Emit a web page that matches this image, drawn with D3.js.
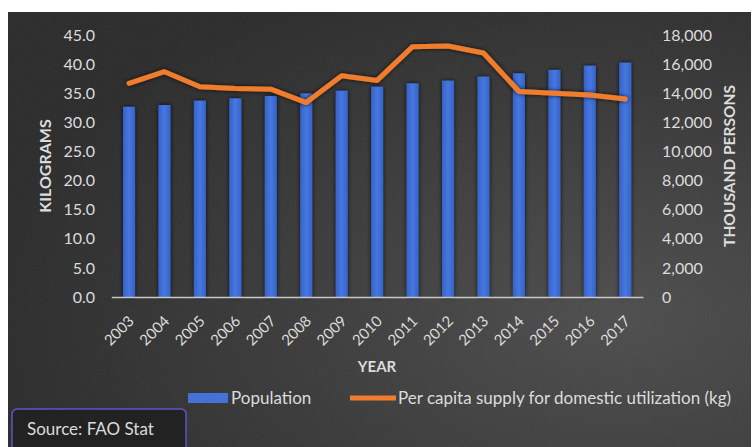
<!DOCTYPE html>
<html>
<head>
<meta charset="utf-8">
<script src="https://cdn.jsdelivr.net/npm/d3@7/dist/d3.min.js"></script>
<style>
  html, body { margin: 0; padding: 0; background: #ffffff; }
  svg { display: block; }
  text { font-family: Lato, "Open Sans", sans-serif; fill: #dcdcdc; }
</style>
</head>
<body>
<svg id="chart" width="753" height="447"></svg>
<script>
// Years on the category axis
const years = ["2003","2004","2005","2006","2007","2008","2009","2010",
               "2011","2012","2013","2014","2015","2016","2017"];
// Population, thousand persons (right axis)
const population = [13070, 13190, 13490, 13650, 13810, 13990, 14170, 14450,
                    14680, 14860, 15140, 15370, 15600, 15890, 16100];
// Per capita supply for domestic utilization, kg (left axis)
const perCapitaKg = [36.7, 38.7, 36.1, 35.8, 35.7, 33.4, 38.0, 37.2,
                     43.0, 43.1, 41.9, 35.3, 35.0, 34.7, 34.0];
const kgTicks = [0, 5, 10, 15, 20, 25, 30, 35, 40, 45];
const popTicks = [0, 2000, 4000, 6000, 8000, 10000, 12000, 14000, 16000, 18000];

const svg = d3.select("#chart");
const defs = svg.append("defs");

// Dark textured panel
const grad = defs.append("radialGradient").attr("id", "bg")
  .attr("cx", "82%").attr("cy", "70%").attr("r", "85%");
grad.append("stop").attr("offset", "0%").attr("stop-color", "#4b4b4b");
grad.append("stop").attr("offset", "55%").attr("stop-color", "#373737");
grad.append("stop").attr("offset", "100%").attr("stop-color", "#282828");

const noise = defs.append("filter").attr("id", "grain")
  .attr("x", 0).attr("y", 0).attr("width", "100%").attr("height", "100%");
noise.append("feTurbulence").attr("type", "fractalNoise")
  .attr("baseFrequency", 0.9).attr("numOctaves", 2).attr("seed", 3).attr("result", "n");
noise.append("feColorMatrix").attr("in", "n").attr("type", "matrix")
  .attr("values", "0 0 0 0 0.5  0 0 0 0 0.5  0 0 0 0 0.5  0 0 0 0.1 0");

const shadow = defs.append("filter").attr("id", "shadow")
  .attr("x", "-50%").attr("y", "-20%").attr("width", "200%").attr("height", "140%");
shadow.append("feDropShadow").attr("dx", 0).attr("dy", 0).attr("stdDeviation", 2)
  .attr("flood-color", "#111").attr("flood-opacity", 0.8);

const barGrad = defs.append("linearGradient").attr("id", "barFill")
  .attr("x1", "0%").attr("x2", "100%").attr("y1", "0%").attr("y2", "0%");
barGrad.append("stop").attr("offset", "0%").attr("stop-color", "#3563c8");
barGrad.append("stop").attr("offset", "50%").attr("stop-color", "#4677e0");
barGrad.append("stop").attr("offset", "100%").attr("stop-color", "#3563c8");

svg.append("rect").attr("x", 8).attr("y", 12).attr("width", 743).attr("height", 435)
  .attr("fill", "url(#bg)");
svg.append("rect").attr("x", 8).attr("y", 12).attr("width", 743).attr("height", 435)
  .attr("filter", "url(#grain)").attr("fill", "#000");

// Scales
const x = d3.scaleBand().domain(years).range([111.3, 643])
  .paddingInner(0.66).paddingOuter(0.33);
const yKg = d3.scaleLinear().domain([0, 45]).range([297, 35]);
const yPop = d3.scaleLinear().domain([0, 18000]).range([297, 35]);

// Population bars
svg.append("g").selectAll("rect").data(years).join("rect")
  .attr("x", d => x(d))
  .attr("width", x.bandwidth())
  .attr("y", (d, i) => yPop(population[i]))
  .attr("height", (d, i) => yPop(0) - yPop(population[i]))
  .attr("fill", "url(#barFill)")
  .attr("filter", "url(#shadow)");

// Category axis
const xAxis = svg.append("g").attr("transform", "translate(0,297)")
  .call(d3.axisBottom(x).tickSize(0).tickPadding(0));
xAxis.select(".domain").attr("stroke", "#c8c8c8").attr("stroke-width", 1.5);
xAxis.selectAll("text")
  .attr("font-size", 15)
  .attr("fill", "#dcdcdc")
  .attr("text-anchor", "end")
  .attr("dy", 0)
  .attr("transform", "translate(6,25) rotate(-45)");

// Left axis (kg)
const yL = svg.append("g").attr("transform", "translate(97,0)")
  .call(d3.axisLeft(yKg).tickValues(kgTicks).tickFormat(d3.format(".1f")).tickSize(0).tickPadding(2));
yL.select(".domain").remove();
yL.selectAll("text").attr("font-size", 16).attr("fill", "#dcdcdc");

// Right axis (thousand persons)
const yR = svg.append("g").attr("transform", "translate(660,0)")
  .call(d3.axisRight(yPop).tickValues(popTicks).tickFormat(d3.format(",")).tickSize(0).tickPadding(2));
yR.select(".domain").remove();
yR.selectAll("text").attr("font-size", 16).attr("fill", "#dcdcdc");

// Per capita supply line
const line = d3.line()
  .x((d, i) => x(years[i]) + x.bandwidth() / 2)
  .y(d => yKg(d));
svg.append("path").datum(perCapitaKg)
  .attr("d", line)
  .attr("fill", "none")
  .attr("stroke", "#f07d2e")
  .attr("stroke-width", 5)
  .attr("stroke-linejoin", "round")
  .attr("stroke-linecap", "round")
  .attr("filter", "url(#shadow)");

// Axis titles
svg.append("text").attr("transform", "translate(51,166) rotate(-90)")
  .attr("text-anchor", "middle").attr("font-size", 16).attr("font-weight", "bold")
  .text("KILOGRAMS");
svg.append("text").attr("transform", "translate(735,166) rotate(-90)")
  .attr("text-anchor", "middle").attr("font-size", 15.5).attr("font-weight", "bold")
  .text("THOUSAND PERSONS");
svg.append("text").attr("x", 377).attr("y", 372)
  .attr("text-anchor", "middle").attr("font-size", 15).attr("font-weight", "bold")
  .text("YEAR");

// Legend
const legend = svg.append("g");
legend.append("rect").attr("x", 188).attr("y", 393).attr("width", 40).attr("height", 10)
  .attr("fill", "#4472d8");
legend.append("text").attr("x", 231).attr("y", 404).attr("font-size", 17).text("Population");
legend.append("line").attr("x1", 350).attr("x2", 396).attr("y1", 398).attr("y2", 398)
  .attr("stroke", "#f07d2e").attr("stroke-width", 5);
legend.append("text").attr("x", 398).attr("y", 404).attr("font-size", 17)
  .text("Per capita supply for domestic utilization (kg)");

// Source note
svg.append("rect").attr("x", 12).attr("y", 409).attr("width", 174).attr("height", 44)
  .attr("rx", 5).attr("fill", "#222222").attr("stroke", "#5a57c8").attr("stroke-width", 1.5);
svg.append("text").attr("x", 27).attr("y", 435).attr("font-size", 17).attr("fill", "#e6e6e6")
  .text("Source: FAO Stat");
</script>
</body>
</html>
